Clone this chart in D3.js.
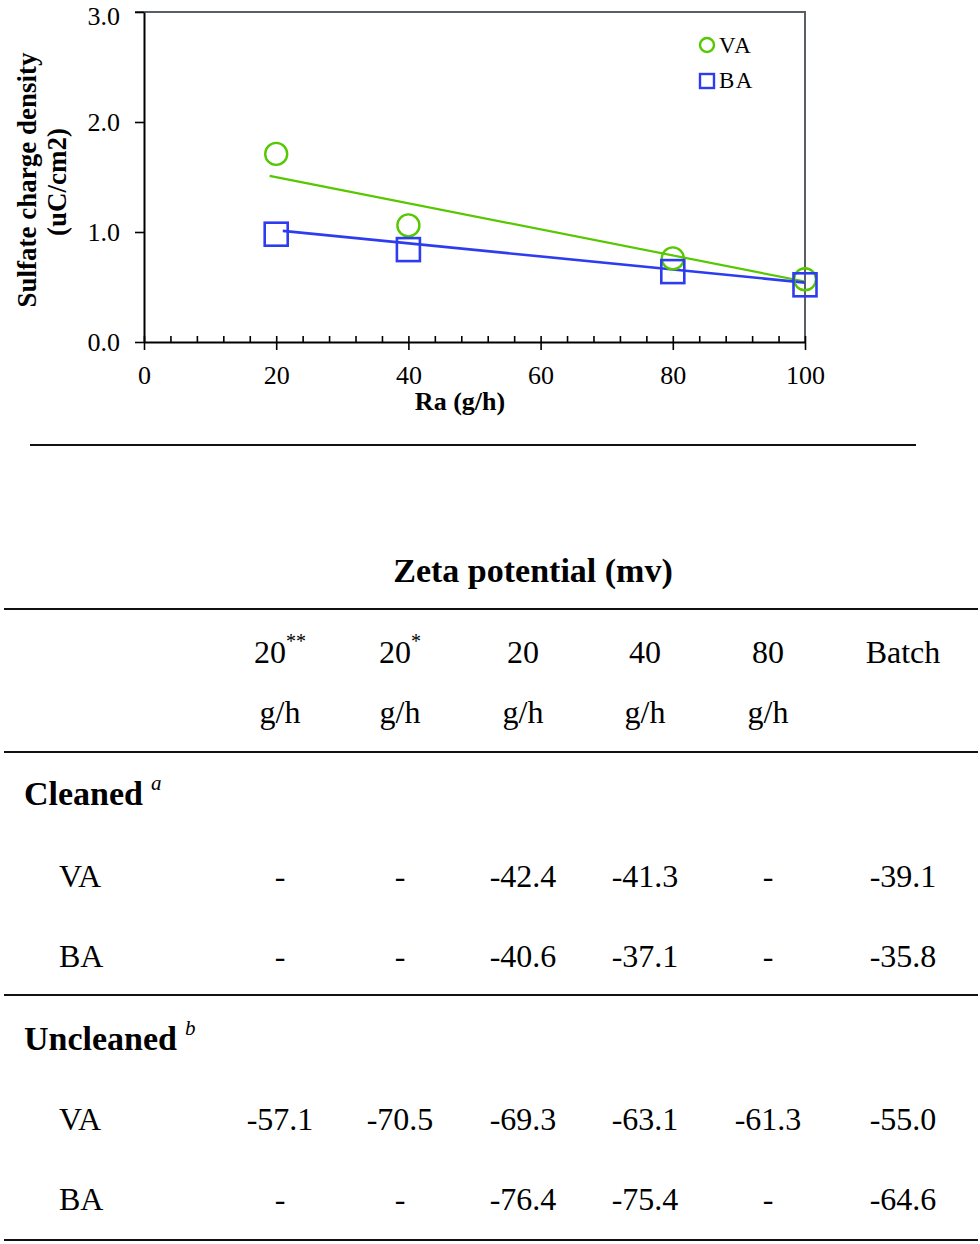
<!DOCTYPE html>
<html>
<head>
<meta charset="utf-8">
<script src="https://cdn.jsdelivr.net/npm/d3@7"></script>
<style>
  body { margin: 0; background: #fff; }
  svg { display: block; font-family: 'Liberation Serif', 'Times New Roman', serif; }
</style>
</head>
<body>
<div id="chart"></div>
<script>
// chart data
const rates = [20, 40, 80, 100]
const vaDensity = [1.71, 1.06, 0.76, 0.57]
const baDensity = [0.98, 0.84, 0.64, 0.52]
// trend lines (x, y)
const vaTrend = [[19, 1.51], [100, 0.55]]
const baTrend = [[21, 1.01], [100, 0.54]]
const xTicks = [0, 20, 40, 60, 80, 100]
const yTicks = [0, 1, 2, 3]
const seriesNames = ['VA', 'BA']

// table data
const zetaColumns = ['20', '20', '20', '40', '80', 'Batch']
const zetaMarks = ['**', '*', '', '', '', '']
const zetaUnits = ['g/h', 'g/h', 'g/h', 'g/h', 'g/h', '']
const cleanedVA = ['-', '-', '-42.4', '-41.3', '-', '-39.1']
const cleanedBA = ['-', '-', '-40.6', '-37.1', '-', '-35.8']
const uncleanedVA = ['-57.1', '-70.5', '-69.3', '-63.1', '-61.3', '-55.0']
const uncleanedBA = ['-', '-', '-76.4', '-75.4', '-', '-64.6']

const width = 980
const height = 1244
const green = '#55c800'
const blue = '#2e3cf0'

const svg = d3.select('#chart').append('svg')
  .attr('width', width)
  .attr('height', height)

// ---- chart ----
const x = d3.scaleLinear().domain([0, 100]).range([144, 805])
const y = d3.scaleLinear().domain([0, 3]).range([342, 12])

// top / right frame (gray)
svg.append('path')
  .attr('d', `M${x(0) - 9},${y(3)}H${x(100)}V${y(0)}`)
  .attr('fill', 'none')
  .attr('stroke', '#5a5f63')
  .attr('stroke-width', 2)

// minor ticks pointing up
svg.append('g')
  .attr('transform', `translate(0,${y(0)})`)
  .call(d3.axisTop(x).tickValues(d3.range(0, 101, 4)).tickSize(6).tickFormat(''))
  .call(g => g.select('.domain').remove())
  .call(g => g.selectAll('line').attr('stroke', '#000').attr('stroke-width', 1.6))

const xAxisG = svg.append('g')
  .attr('transform', `translate(0,${y(0)})`)
  .call(d3.axisBottom(x).tickValues(xTicks).tickSizeInner(8).tickSizeOuter(0).tickPadding(16))
xAxisG.select('.domain').attr('stroke', '#000').attr('stroke-width', 2)
xAxisG.selectAll('line').attr('stroke', '#000').attr('stroke-width', 1.6)
xAxisG.selectAll('text')
  .attr('font-family', "'Liberation Serif', serif")
  .attr('font-size', 26)
  .attr('fill', '#000')

const yAxisG = svg.append('g')
  .attr('transform', `translate(${x(0)},0)`)
  .call(d3.axisLeft(y).tickValues(yTicks).tickFormat(d3.format('.1f')).tickSizeInner(9).tickSizeOuter(0).tickPadding(15))
yAxisG.select('.domain').attr('stroke', '#000').attr('stroke-width', 2)
yAxisG.selectAll('line').attr('stroke', '#000').attr('stroke-width', 1.6)
yAxisG.selectAll('text')
  .attr('font-family', "'Liberation Serif', serif")
  .attr('font-size', 26)
  .attr('fill', '#000')
  // keep the top label inside the page
  .attr('y', d => d === 3 ? 4 : 0)

// axis titles
svg.append('text')
  .attr('transform', 'translate(36,180) rotate(-90)')
  .attr('text-anchor', 'middle')
  .attr('font-weight', 'bold')
  .attr('font-size', 27)
  .text('Sulfate charge density')
svg.append('text')
  .attr('transform', 'translate(66,182) rotate(-90)')
  .attr('text-anchor', 'middle')
  .attr('font-weight', 'bold')
  .attr('font-size', 27)
  .text('(uC/cm2)')
svg.append('text')
  .attr('x', 460)
  .attr('y', 410)
  .attr('text-anchor', 'middle')
  .attr('font-weight', 'bold')
  .attr('font-size', 26)
  .text('Ra (g/h)')

// trend lines
const line = d3.line().x(d => x(d[0])).y(d => y(d[1]))
svg.append('path').datum(vaTrend)
  .attr('d', line).attr('fill', 'none').attr('stroke', green).attr('stroke-width', 2.2)
svg.append('path').datum(baTrend)
  .attr('d', line).attr('fill', 'none').attr('stroke', blue).attr('stroke-width', 2.6)

// markers
svg.append('g').selectAll('circle')
  .data(rates.map((r, i) => [r, vaDensity[i]]))
  .enter()
  .append('circle')
  .attr('cx', d => x(d[0]))
  .attr('cy', d => y(d[1]))
  .attr('r', 11)
  .attr('fill', 'none')
  .attr('stroke', green)
  .attr('stroke-width', 2.4)

const sq = 23
svg.append('g').selectAll('rect')
  .data(rates.map((r, i) => [r, baDensity[i]]))
  .enter()
  .append('rect')
  .attr('x', d => x(d[0]) - sq / 2)
  .attr('y', d => y(d[1]) - sq / 2)
  .attr('width', sq)
  .attr('height', sq)
  .attr('fill', 'none')
  .attr('stroke', blue)
  .attr('stroke-width', 2.6)

// legend
const legend = svg.append('g').attr('transform', 'translate(707,45)')
legend.append('circle')
  .attr('r', 7)
  .attr('fill', 'none')
  .attr('stroke', green)
  .attr('stroke-width', 2.4)
legend.append('rect')
  .attr('x', -7).attr('y', 29)
  .attr('width', 14).attr('height', 14)
  .attr('fill', 'none')
  .attr('stroke', blue)
  .attr('stroke-width', 2.4)
legend.selectAll('text')
  .data(seriesNames)
  .enter()
  .append('text')
  .attr('x', 12)
  .attr('y', (d, i) => 8 + i * 35)
  .attr('font-size', 23)
  .attr('letter-spacing', 1.5)
  .text(d => d)

// ---- table ----
const rule = (y0, x0, x1) => svg.append('line')
  .attr('x1', x0).attr('x2', x1)
  .attr('y1', y0).attr('y2', y0)
  .attr('stroke', '#111')
  .attr('stroke-width', 2)

rule(445, 30, 916)
rule(609, 4, 978)
rule(752, 4, 978)
rule(995, 4, 978)
rule(1240, 4, 978)

svg.append('text')
  .attr('x', 533)
  .attr('y', 582)
  .attr('text-anchor', 'middle')
  .attr('font-weight', 'bold')
  .attr('font-size', 34)
  .text('Zeta potential (mv)')

const colX = d3.scaleOrdinal()
  .domain(d3.range(zetaColumns.length))
  .range([280, 400, 523, 645, 768, 903])

const head = svg.append('g')
head.selectAll('text.col')
  .data(zetaColumns)
  .enter()
  .append('text')
  .attr('class', 'col')
  .attr('x', (d, i) => colX(i))
  .attr('y', 663)
  .attr('text-anchor', 'middle')
  .attr('font-size', 32)
  .each(function (d, i) {
    const t = d3.select(this)
    t.append('tspan').text(d)
    if (zetaMarks[i]) {
      t.append('tspan')
        .attr('dy', -15)
        .attr('font-size', 20)
        .text(zetaMarks[i])
    }
  })
head.selectAll('text.unit')
  .data(zetaUnits)
  .enter()
  .append('text')
  .attr('class', 'unit')
  .attr('x', (d, i) => colX(i))
  .attr('y', 723)
  .attr('text-anchor', 'middle')
  .attr('font-size', 32)
  .text(d => d)

const groupTitle = (label, mark, yBase) => {
  const t = svg.append('text')
    .attr('x', 24)
    .attr('y', yBase)
    .attr('font-size', 34)
  t.append('tspan').attr('font-weight', 'bold').text(label)
  t.append('tspan')
    .attr('dx', 8)
    .attr('dy', -15)
    .attr('font-size', 21)
    .attr('font-style', 'italic')
    .text(mark)
}
groupTitle('Cleaned', 'a', 805)
groupTitle('Uncleaned', 'b', 1050)

const rows = [
  { name: 'VA', values: cleanedVA, y: 887 },
  { name: 'BA', values: cleanedBA, y: 967 },
  { name: 'VA', values: uncleanedVA, y: 1130 },
  { name: 'BA', values: uncleanedBA, y: 1210 }
]

rows.forEach(row => {
  const g = svg.append('g')
  g.append('text')
    .attr('x', 59)
    .attr('y', row.y)
    .attr('font-size', 32)
    .text(row.name)
  g.selectAll('text.v')
    .data(row.values)
    .enter()
    .append('text')
    .attr('class', 'v')
    .attr('x', (d, i) => colX(i))
    .attr('y', row.y)
    .attr('text-anchor', 'middle')
    .attr('font-size', 32)
    .text(d => d)
})
</script>
</body>
</html>
